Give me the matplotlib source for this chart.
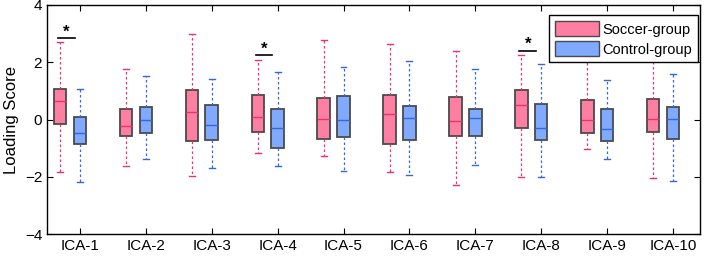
import numpy as np
import matplotlib.pyplot as plt
from matplotlib.patches import Patch

plt.rcParams['font.family'] = ['Liberation Sans', 'DejaVu Sans']

labels = ['ICA-1', 'ICA-2', 'ICA-3', 'ICA-4', 'ICA-5',
          'ICA-6', 'ICA-7', 'ICA-8', 'ICA-9', 'ICA-10']

# soccer group: whisker low, Q1, median, Q3, whisker high
soccer_lo = [-1.84, -1.63, -1.99, -1.18, -1.28, -1.84, -2.30, -2.01, -1.04, -2.05]
soccer_q1 = [-0.16, -0.59, -0.76, -0.45, -0.68, -0.85, -0.59, -0.29, -0.46, -0.43]
soccer_med = [0.66, -0.23, 0.25, 0.10, 0.02, 0.18, -0.06, 0.50, -0.03, 0.02]
soccer_q3 = [1.08, 0.36, 1.02, 0.85, 0.74, 0.85, 0.78, 1.02, 0.67, 0.71]
soccer_hi = [2.70, 1.75, 3.00, 2.07, 2.77, 2.63, 2.38, 2.26, 2.40, 2.50]

# control group
control_lo = [-2.20, -1.39, -1.68, -1.61, -1.80, -1.93, -1.59, -2.01, -1.39, -2.14]
control_q1 = [-0.86, -0.48, -0.72, -1.00, -0.62, -0.73, -0.59, -0.71, -0.74, -0.68]
control_med = [-0.48, -0.02, -0.20, -0.30, -0.03, 0.06, 0.04, -0.30, -0.33, 0.01]
control_q3 = [0.09, 0.45, 0.52, 0.36, 0.81, 0.47, 0.38, 0.53, 0.38, 0.43]
control_hi = [1.08, 1.51, 1.42, 1.65, 1.83, 2.03, 1.75, 1.93, 1.38, 1.58]

# significant components and height of the bracket
sig_idx = [0, 3, 7]
sig_y = [2.85, 2.24, 2.40]

pink_fill = '#ff7fa3'
pink_line = '#e8336b'
blue_fill = '#7faaff'
blue_line = '#3366e0'


def stats(lo, q1, med, q3, hi):
    return [dict(whislo=a, q1=b, med=c, q3=d, whishi=e, fliers=[])
            for a, b, c, d, e in zip(lo, q1, med, q3, hi)]


fig = plt.figure(figsize=(7.07, 2.57), dpi=100)
ax = fig.add_axes([47 / 707, 23 / 257, 653 / 707, 229 / 257])

pos = np.arange(1, len(labels) + 1)


def draw(st, positions, fill, line):
    ax.bxp(st, positions=positions, widths=0.19, patch_artist=True,
           showfliers=False, capwidths=0.09,
           boxprops=dict(facecolor=fill, edgecolor='#4a4a4a', linewidth=1.3),
           medianprops=dict(color=line, linewidth=1.0),
           whiskerprops=dict(color=line, linewidth=0.9, linestyle=(0, (2, 2))),
           capprops=dict(color=line, linewidth=1.0))


draw(stats(soccer_lo, soccer_q1, soccer_med, soccer_q3, soccer_hi),
     pos - 0.3, pink_fill, pink_line)
draw(stats(control_lo, control_q1, control_med, control_q3, control_hi),
     pos, blue_fill, blue_line)

for i, y in zip(sig_idx, sig_y):
    x0, x1 = pos[i] - 0.33, pos[i] - 0.08
    ax.plot([x0, x1], [y, y], color='black', linewidth=1.2)
    ax.text((x0 + x1) / 2, y - 0.05, '*', ha='center', va='bottom',
            fontsize=12, fontweight='bold')

ax.set_xlim(0.5, 10.41)
ax.set_ylim(-4, 4)
ax.set_xticks(pos)
ax.set_xticklabels(labels, fontsize=11)
ax.set_yticks([-4, -2, 0, 2, 4])
ax.tick_params(axis='y', labelsize=11)
ax.tick_params(direction='in', top=True, right=True, length=4)
ax.set_ylabel('Loading Score', fontsize=12)
for s in ax.spines.values():
    s.set_linewidth(1.0)

handles = [Patch(facecolor=pink_fill, edgecolor='#4a4a4a', label='Soccer-group'),
           Patch(facecolor=blue_fill, edgecolor='#4a4a4a', label='Control-group')]
leg = ax.legend(handles=handles, loc='upper right',
                bbox_to_anchor=(0.997, 0.956), fontsize=10.5,
                fancybox=False, framealpha=1, edgecolor='black',
                borderaxespad=0, handlelength=3.0, handleheight=1.25,
                handletextpad=0.25, labelspacing=0.3, borderpad=0.4)
leg.get_frame().set_linewidth(1.0)
leg.set_zorder(10)

fig.savefig('out.png', dpi=100)
